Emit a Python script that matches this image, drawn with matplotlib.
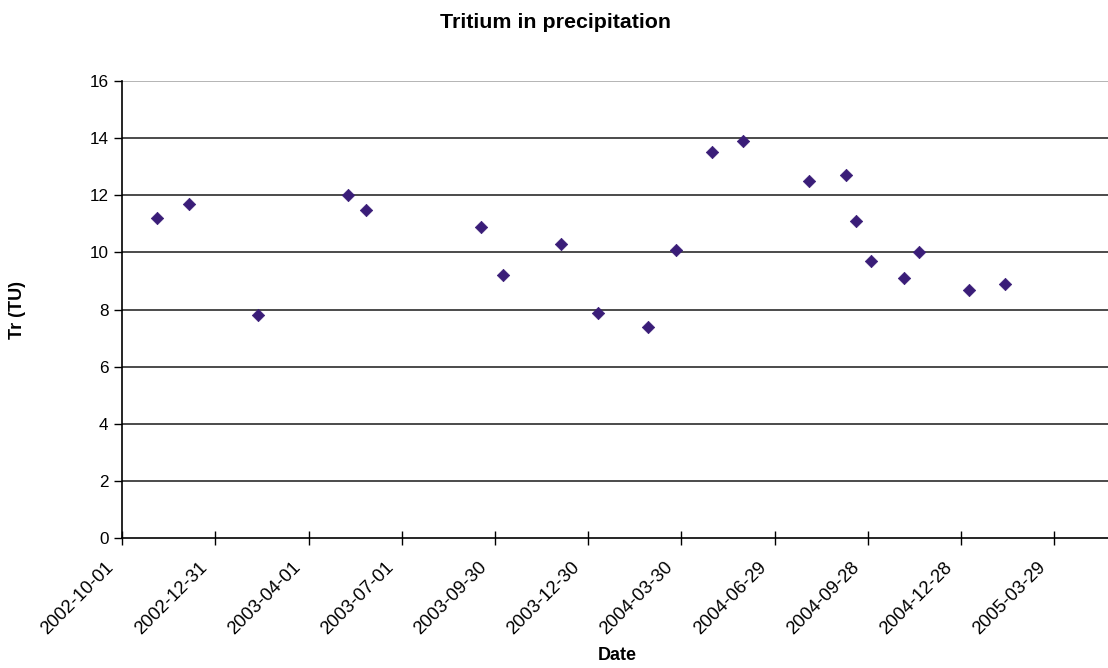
import matplotlib
matplotlib.use("Agg")
import matplotlib.pyplot as plt
import matplotlib.transforms as mtransforms
import pandas as pd

# Sampling dates and tritium concentrations (TU)
sample_dates = [
    "2002-11-04", "2002-12-05", "2003-02-11", "2003-05-09", "2003-05-27",
    "2003-09-16", "2003-10-08", "2003-12-03", "2004-01-09", "2004-02-26",
    "2004-03-25", "2004-04-29", "2004-05-29", "2004-08-02", "2004-09-07",
    "2004-09-17", "2004-10-01", "2004-11-02", "2004-11-17", "2005-01-05",
    "2005-02-09",
]
tritium_tu = [
    11.2, 11.7, 7.8, 12.0, 11.5,
    10.9, 9.2, 10.3, 7.9, 7.4,
    10.1, 13.5, 13.9, 12.5, 12.7,
    11.1, 9.7, 9.1, 10.0, 8.7,
    8.9,
]
x_tick_labels = [
    "2002-10-01", "2002-12-31", "2003-04-01", "2003-07-01", "2003-09-30",
    "2003-12-30", "2004-03-30", "2004-06-29", "2004-09-28", "2004-12-28",
    "2005-03-29",
]
y_ticks = [0, 2, 4, 6, 8, 10, 12, 14, 16]

plt.rcParams["font.family"] = ["Liberation Sans", "DejaVu Sans"]

fig = plt.figure(figsize=(11.08, 6.68), dpi=100)
ax = fig.add_axes([122.3 / 1108, 1 - 538.3 / 668, 1 - 122.3 / 1108, (538.3 - 81) / 668])

dates = pd.to_datetime(sample_dates)
ax.scatter(dates, tritium_tu, marker="D", s=40, color="#3a1d78",
           edgecolors="#3a1d78", linewidths=0.5, zorder=3, clip_on=False)

# Horizontal gridlines
for v in y_ticks[1:]:
    ax.axhline(v, color="#a0a0a0" if v == 16 else "#1a1a1a", lw=1.1, zorder=1)

tick_dates = pd.to_datetime(x_tick_labels)
x_start = tick_dates[0]
x_end = x_start + pd.Timedelta(days=962.7)
ax.set_xlim(x_start, x_end)
ax.set_ylim(0, 16)

ax.set_xticks(tick_dates)
ax.set_xticklabels(x_tick_labels, rotation=45, ha="right", va="center",
                   rotation_mode="anchor", fontsize=13.3)
ax.set_yticks(y_ticks)
ax.set_yticklabels([str(v) for v in y_ticks], fontsize=12.3)

ax.tick_params(axis="x", direction="inout", length=10, width=1, color="#000000", pad=14)
ax.tick_params(axis="y", direction="out", length=6, width=1, color="#000000", pad=4)

# nudge the slanted date labels a little to the left of their ticks
shift = mtransforms.ScaledTranslation(-0.11, 0, fig.dpi_scale_trans)
for lbl in ax.get_xticklabels():
    lbl.set_transform(lbl.get_transform() + shift)

for side in ("top", "right"):
    ax.spines[side].set_visible(False)
for side in ("left", "bottom"):
    ax.spines[side].set_color("#000000")
    ax.spines[side].set_linewidth(1.2)

fig.text(0.5015, 1 - 22 / 668, "Tritium in precipitation", ha="center", va="center",
         fontsize=15.4, fontweight="bold")
fig.text(617 / 1108, 1 - 655 / 668, "Date", ha="center", va="center",
         fontsize=13, fontweight="bold")
fig.text(17 / 1108, 1 - 310 / 668, "Tr (TU)", ha="center", va="center",
         rotation=90, fontsize=13, fontweight="bold")

fig.savefig("out.png", dpi=100, facecolor="white")
